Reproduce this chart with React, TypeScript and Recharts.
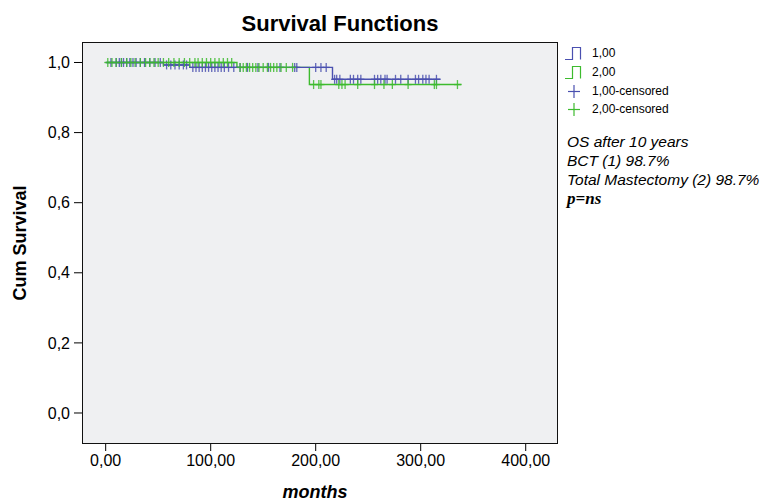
import React from "react";
import {
  ComposedChart,
  Line,
  Scatter,
  XAxis,
  YAxis,
  CartesianGrid,
} from "recharts";

// Kaplan-Meier step points (months, cumulative survival)
const group1Steps = [
  { t: 0, s: 1.0 },
  { t: 55, s: 0.993 },
  { t: 80, s: 0.986 },
  { t: 216, s: 0.952 },
  { t: 319, s: 0.952 },
];
const group2Steps = [
  { t: 0, s: 1.0 },
  { t: 125, s: 0.986 },
  { t: 194, s: 0.937 },
  { t: 339, s: 0.937 },
];

// Censored times (months)
const group1Censored = [
  5, 10, 13, 15, 17, 20, 23, 26, 29, 33, 37, 42, 47, 52,
  58, 62, 66, 70, 74, 77,
  83, 86, 89, 92, 95, 98, 101, 104, 107, 110, 113, 117, 122, 128, 135, 145,
  155, 166, 180, 182, 200, 205, 210,
  218, 220, 223, 233, 236, 240, 243, 256, 259, 262, 266, 268, 276, 281, 288,
  295, 298, 302, 305, 308, 315,
];
const group2Censored = [
  2, 6, 10, 15, 20, 24, 28, 33, 38, 42, 46, 50, 55, 60, 65, 70, 75, 80, 85,
  88, 92, 96, 100, 104, 108, 112, 116, 120,
  128, 131, 134, 137, 140, 143, 146, 150, 154, 157, 160, 163, 167, 172, 178,
  198, 203, 205, 222, 225, 228, 240, 256, 265, 273, 288, 313, 315, 335,
];

const xTicks = [0, 100, 200, 300, 400];
const yTicks = [0, 0.2, 0.4, 0.6, 0.8, 1.0];

const BLUE = "#4a50b0";
const GREEN = "#3dbb2e";
const FONT = "'Liberation Sans', Arial, Helvetica, sans-serif";

function levelAt(steps: { t: number; s: number }[], t: number) {
  let s = steps[0].s;
  for (const p of steps) if (p.t <= t) s = p.s;
  return s;
}

const cens1 = group1Censored.map((t) => ({ t, s: levelAt(group1Steps, t) }));
const cens2 = group2Censored.map((t) => ({ t, s: levelAt(group2Steps, t) }));

const Plus = (color: string) => (props: any) => {
  const { cx, cy } = props;
  if (cx == null || cy == null) return <g />;
  return (
    <g stroke={color} strokeWidth={1.3} opacity={0.85}>
      <line x1={cx} y1={cy - 4.5} x2={cx} y2={cy + 4.5} />
      <line x1={cx - 3.5} y1={cy} x2={cx + 3.5} y2={cy} />
    </g>
  );
};

const fmtX = (v: number) => v.toFixed(2).replace(".", ",");
const fmtY = (v: number) => v.toFixed(1).replace(".", ",");

function StepIcon({ color }: { color: string }) {
  return (
    <svg width={20} height={16} style={{ position: "absolute", left: 0, top: 0 }}>
      <path d="M1 14.5 H8.5 V2.5 H16.5 V14.5" fill="none" stroke={color} strokeWidth={1.2} />
    </svg>
  );
}

function PlusIcon({ color }: { color: string }) {
  return (
    <svg width={20} height={16} style={{ position: "absolute", left: 0, top: 0 }}>
      <line x1={10} y1={2} x2={10} y2={15} stroke={color} strokeWidth={1.2} />
      <line x1={4} y1={8.5} x2={16} y2={8.5} stroke={color} strokeWidth={1.2} />
    </svg>
  );
}

export default function App() {
  const legendRows = [
    { label: "1,00", icon: <StepIcon color={BLUE} />, top: 45 },
    { label: "2,00", icon: <StepIcon color={GREEN} />, top: 64 },
    { label: "1,00-censored", icon: <PlusIcon color={BLUE} />, top: 83 },
    { label: "2,00-censored", icon: <PlusIcon color={GREEN} />, top: 101 },
  ];
  return (
    <div
      style={{
        position: "absolute",
        left: 0,
        top: 0,
        width: 772,
        height: 503,
        background: "#fff",
        fontFamily: FONT,
      }}
    >
      <ComposedChart
        width={772}
        height={503}
        margin={{ top: 43, right: 215, bottom: 0, left: 0 }}
      >
        <CartesianGrid
          horizontal={false}
          vertical={false}
          fill="#eff0f2"
          fillOpacity={1}
        />
        <XAxis
          dataKey="t"
          type="number"
          domain={[-21.6, 429.8]}
          allowDataOverflow
          ticks={xTicks}
          tickFormatter={fmtX}
          axisLine={false}
          tickSize={8}
          tickLine={{ stroke: "#000" }}
          tick={{ fill: "#000", fontSize: 16, fontFamily: FONT }}
          height={60}
          tickMargin={4}
        />
        <YAxis
          dataKey="s"
          type="number"
          domain={[-0.0856, 1.0556]}
          allowDataOverflow
          ticks={yTicks}
          tickFormatter={fmtY}
          axisLine={false}
          tickSize={9}
          tickLine={{ stroke: "#000" }}
          tick={{ fill: "#000", fontSize: 16, fontFamily: FONT }}
          width={83}
          tickMargin={4}
        />
        <Line
          data={group2Steps}
          dataKey="s"
          type="stepAfter"
          stroke={GREEN}
          strokeWidth={1.4}
          dot={false}
          isAnimationActive={false}
        />
        <Line
          data={group1Steps}
          dataKey="s"
          type="stepAfter"
          stroke={BLUE}
          strokeWidth={1.4}
          dot={false}
          isAnimationActive={false}
        />
        <Scatter data={cens1} dataKey="s" shape={Plus(BLUE)} isAnimationActive={false} />
        <Scatter data={cens2} dataKey="s" shape={Plus(GREEN)} isAnimationActive={false} />
      </ComposedChart>

      {/* plot border */}
      <div
        style={{
          position: "absolute",
          left: 82,
          top: 42,
          width: 476,
          height: 402,
          border: "1px solid #111",
          boxSizing: "border-box",
          pointerEvents: "none",
        }}
      />

      {/* title */}
      <div
        style={{
          position: "absolute",
          left: 140,
          width: 400,
          top: 11,
          textAlign: "center",
          fontWeight: "bold",
          fontSize: 22,
          lineHeight: "26px",
        }}
      >
        Survival Functions
      </div>

      {/* y axis label */}
      <div
        style={{
          position: "absolute",
          left: 20 - 100,
          top: 243 - 12,
          width: 200,
          textAlign: "center",
          fontWeight: "bold",
          fontSize: 18,
          lineHeight: "24px",
          transform: "rotate(-90deg)",
        }}
      >
        Cum Survival
      </div>

      {/* x axis label */}
      <div
        style={{
          position: "absolute",
          left: 215,
          width: 200,
          top: 480,
          textAlign: "center",
          fontWeight: "bold",
          fontStyle: "italic",
          fontSize: 18,
          lineHeight: "24px",
        }}
      >
        months
      </div>

      {/* legend */}
      {legendRows.map((r) => (
        <div
          key={r.label}
          style={{ position: "absolute", left: 564, top: r.top, height: 16, width: 200 }}
        >
          {r.icon}
          <span
            style={{
              position: "absolute",
              left: 28,
              top: 0,
              fontSize: 12,
              lineHeight: "16px",
            }}
          >
            {r.label}
          </span>
        </div>
      ))}

      {/* annotations */}
      <div
        style={{
          position: "absolute",
          left: 567,
          top: 132,
          fontStyle: "italic",
          fontSize: 15.5,
          lineHeight: "19px",
          whiteSpace: "nowrap",
        }}
      >
        <div>OS after 10 years</div>
        <div>BCT (1) 98.7%</div>
        <div>Total Mastectomy (2) 98.7%</div>
        <div
          style={{
            fontFamily: "'Liberation Serif', 'Times New Roman', serif",
            fontWeight: "bold",
            fontSize: 17,
          }}
        >
          p=ns
        </div>
      </div>
    </div>
  );
}
